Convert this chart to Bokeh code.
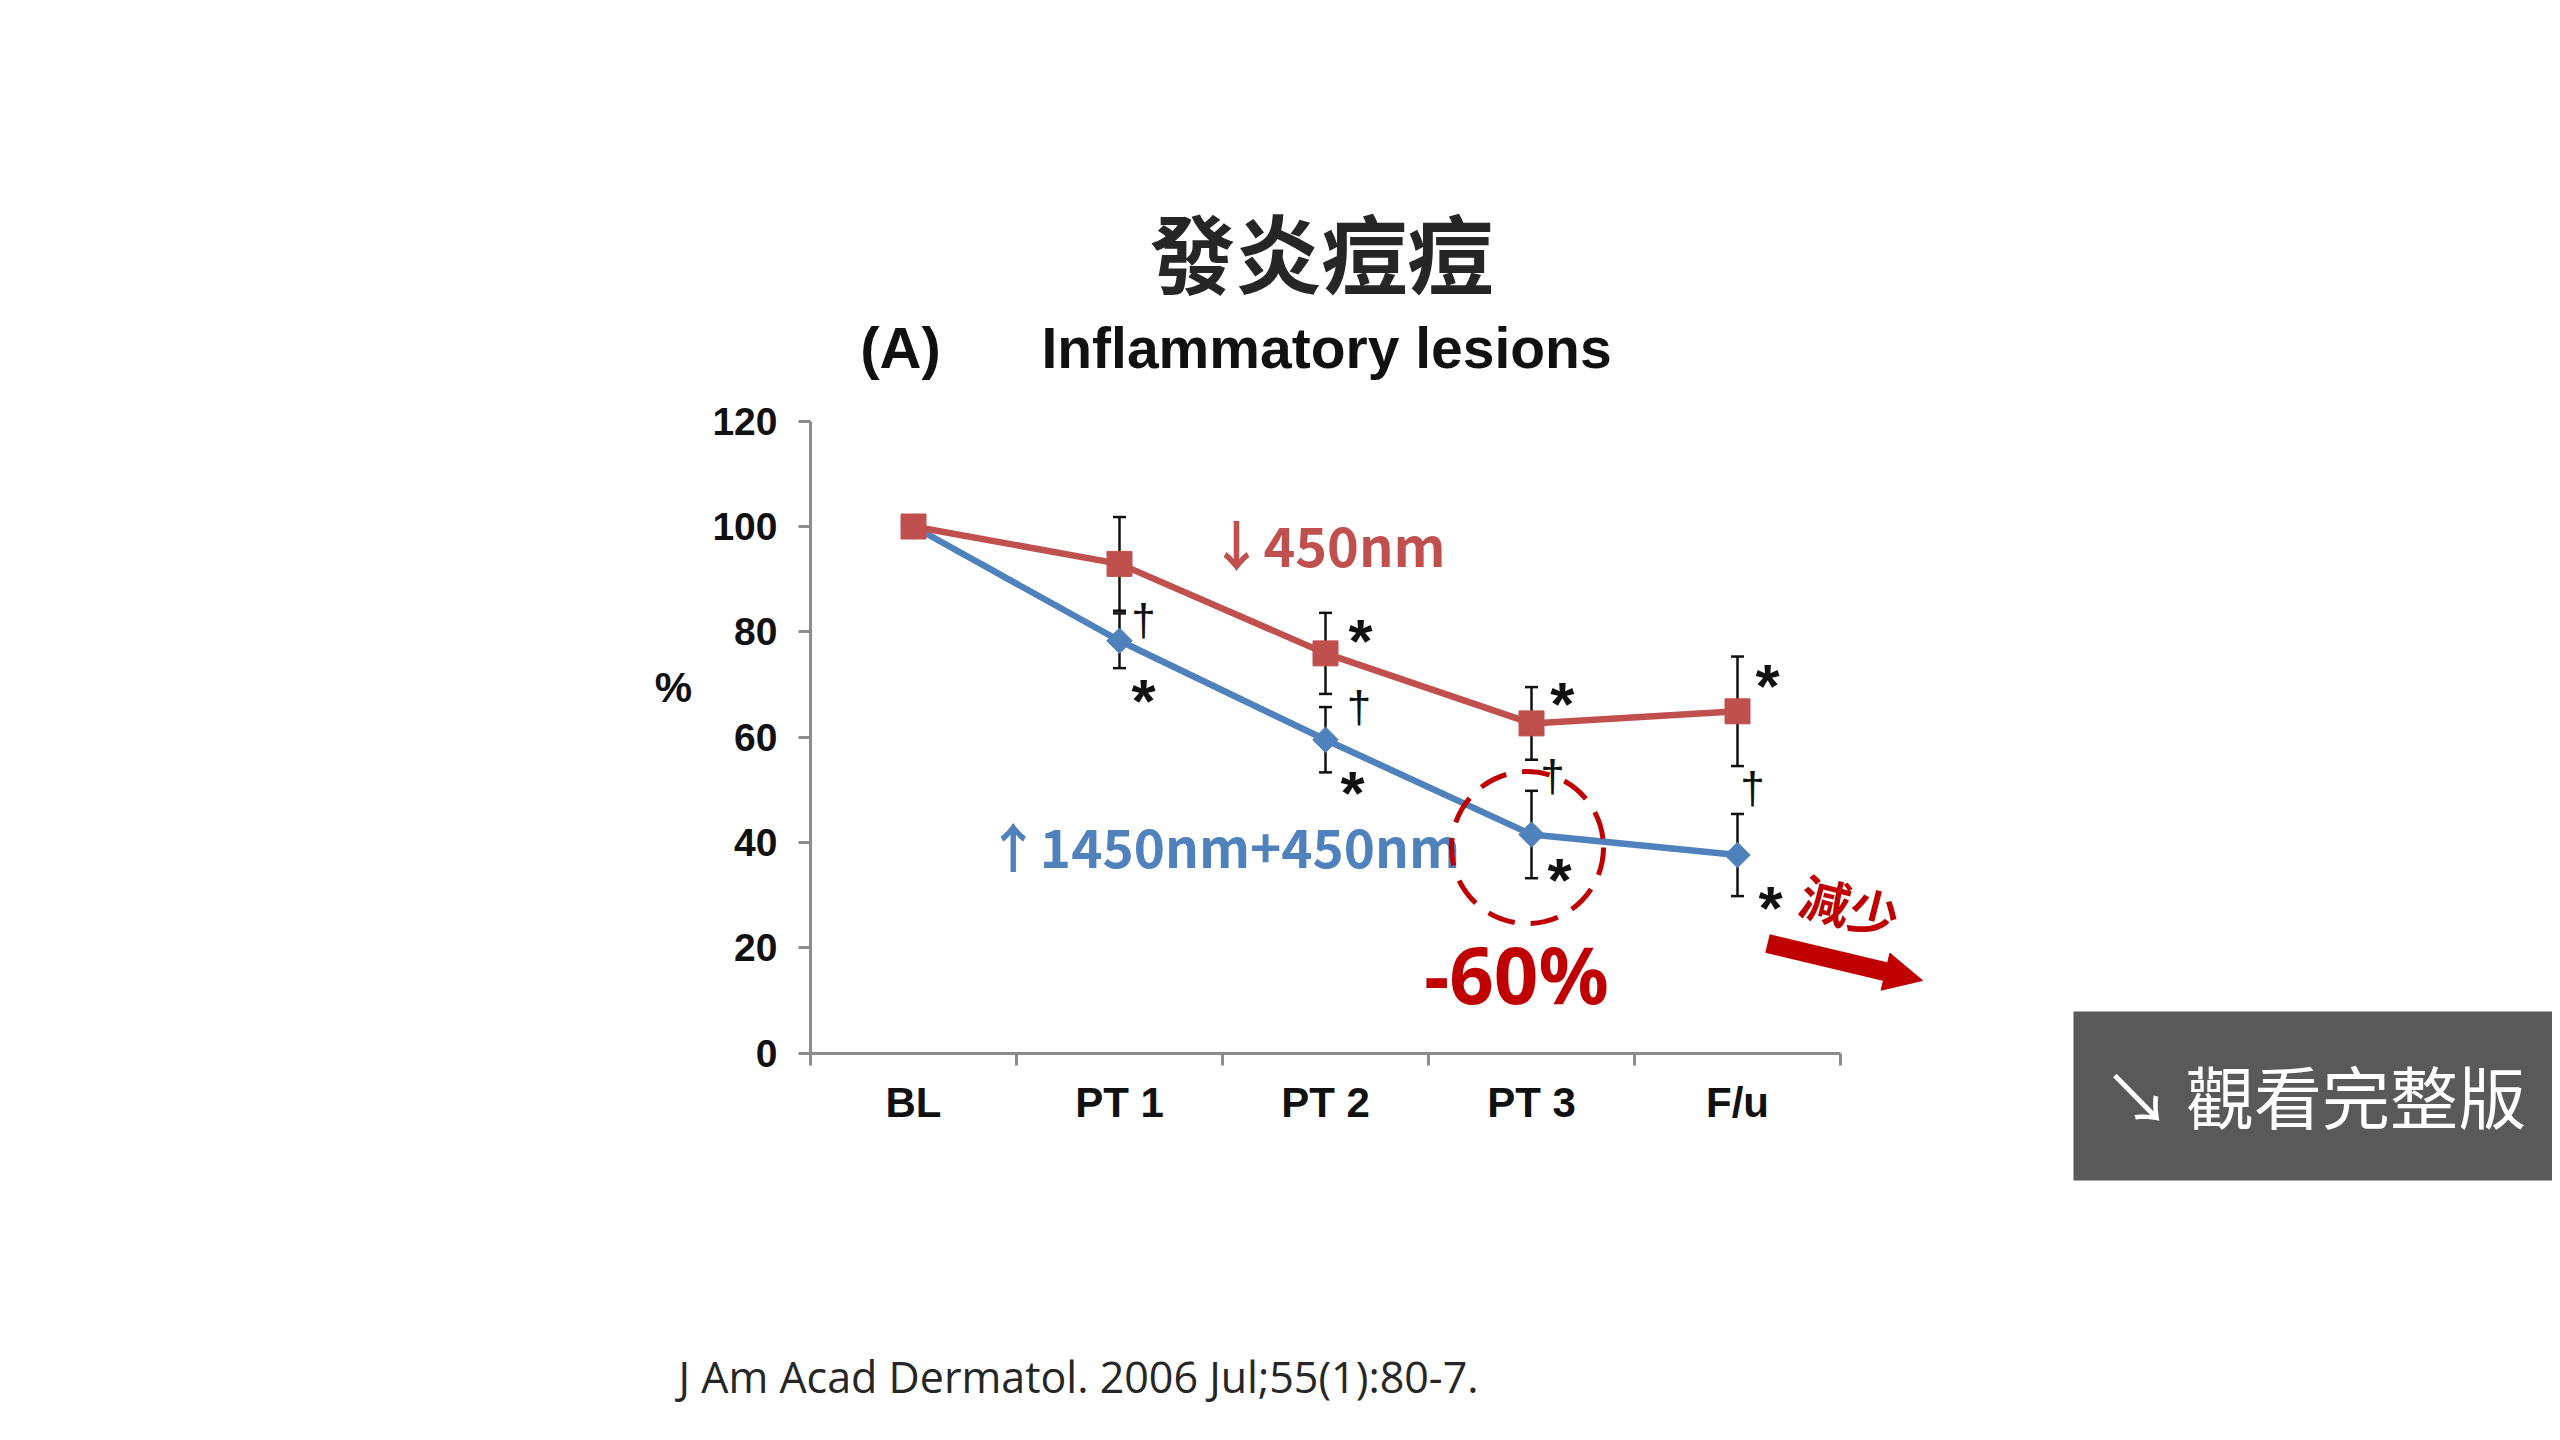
import numpy as np
from bokeh.plotting import figure
from bokeh.models import LinearAxis, FixedTicker, Range1d, ColumnDataSource, Arrow, NormalHead
from bokeh.core.properties import value
from bokeh.embed import file_html
from bokeh.resources import INLINE

# ---------------- data ----------------
categories = ["BL", "PT 1", "PT 2", "PT 3", "F/u"]
y_ticks = [0, 20, 40, 60, 80, 100, 120]
red_450 = [100, 92.9, 75.9, 62.6, 64.9]
red_450_err = [0, 8.9, 7.7, 6.9, 10.4]
blue_combo = [100, 78.3, 59.5, 41.5, 37.6]
blue_combo_err = [0, 5.2, 6.2, 8.3, 7.8]

# significance marks (category units, 1 = BL) and their value level
sig_text = ["†", "*", "*", "†", "*", "*", "†", "*", "*", "†", "*"]
sig_x = [2.117, 2.117, 3.17, 3.163, 3.131, 4.15, 4.102, 4.136, 5.146, 5.073, 5.16]
sig_y = [81.8, 68.3, 79.6, 65.3, 50.7, 67.6, 52.1, 34.3, 71.1, 49.9, 29.0]

# ---------------- layout helpers ----------------
W, H = 2552, 1432
PAGE = 0
AX_X0, UX = 810.0, 206.0      # pixel of x=0.5 (axis start), px per category
AX_Y0, UY = 1052.5, 5.265     # pixel of y=0, px per unit


def dx(px):
    return 0.5 + (px - AX_X0) / UX


def dy(py):
    return (AX_Y0 - py) / UY


RED = "#C0504D"
BLUE = "#4F81BD"
DARKRED = "#C00000"
GRAY = "#8C8C8C"

p = figure(width=W, height=H,
           x_range=Range1d(dx(PAGE), dx(PAGE + W)),
           y_range=Range1d(dy(PAGE + H), dy(PAGE)),
           x_axis_type=None, y_axis_type=None,
           toolbar_location=None, output_backend="svg",
           min_border=0, title=None)
p.outline_line_color = None
p.background_fill_color = "white"
p.border_fill_color = "white"

# ---------------- axes ----------------
n = len(categories)
xs = list(range(1, n + 1))

yaxis = LinearAxis(fixed_location=0.5, bounds=(y_ticks[0], y_ticks[-1]),
                   ticker=FixedTicker(ticks=y_ticks),
                   axis_line_color=GRAY, axis_line_width=3,
                   major_tick_line_color=GRAY, major_tick_line_width=3,
                   major_tick_in=0, major_tick_out=12,
                   minor_tick_line_color=None,
                   major_label_standoff=21,
                   major_label_text_font="Liberation Sans",
                   major_label_text_font_style="bold",
                   major_label_text_font_size="39px",
                   major_label_text_color="#111111")
p.add_layout(yaxis, "left")

xaxis_ticks = LinearAxis(fixed_location=0, bounds=(0.5, n + 0.5),
                         ticker=FixedTicker(ticks=[i + 0.5 for i in range(n + 1)]),
                         axis_line_color=GRAY, axis_line_width=3,
                         major_tick_line_color=GRAY, major_tick_line_width=3,
                         major_tick_in=0, major_tick_out=12,
                         minor_tick_line_color=None,
                         major_label_text_color=None)
p.add_layout(xaxis_ticks, "below")

xaxis_labels = LinearAxis(fixed_location=0,
                          ticker=FixedTicker(ticks=xs),
                          major_label_overrides={x: c for x, c in zip(xs, categories)},
                          axis_line_color=None, major_tick_line_color=None,
                          minor_tick_line_color=None,
                          major_tick_in=0, major_tick_out=0,
                          major_label_standoff=26,
                          major_label_text_font="Liberation Sans",
                          major_label_text_font_style="bold",
                          major_label_text_font_size="42px",
                          major_label_text_color="#111111")
p.add_layout(xaxis_labels, "below")

# ---------------- error bars ----------------
for vals, errs in ((red_450, red_450_err), (blue_combo, blue_combo_err)):
    ex = [x for x, e in zip(xs, errs) if e > 0]
    lo = [v - e for v, e in zip(vals, errs) if e > 0]
    hi = [v + e for v, e in zip(vals, errs) if e > 0]
    src = ColumnDataSource(dict(x=ex, lo=lo, hi=hi))
    p.segment(x0="x", y0="lo", x1="x", y1="hi", source=src, line_color="#111111", line_width=2.5)
    p.scatter(x="x", y="lo", source=src, marker="dash", size=13, line_color="#111111", line_width=2.5)
    p.scatter(x="x", y="hi", source=src, marker="dash", size=13, line_color="#111111", line_width=2.5)

# ---------------- series ----------------
p.line(xs, blue_combo, line_color=BLUE, line_width=6.5)
p.scatter(xs, blue_combo, marker="square", angle=np.pi / 4, size=18,
          fill_color=BLUE, line_color=BLUE)
p.line(xs, red_450, line_color=RED, line_width=6.5)
p.scatter(xs, red_450, marker="square", size=25, fill_color=RED, line_color=RED)

# ---------------- significance marks ----------------
ast_size, dag_size = 62, 44
ast_x = [x for x, t in zip(sig_x, sig_text) if t == "*"]
ast_y = [y - 0.11 * ast_size / UY for y, t in zip(sig_y, sig_text) if t == "*"]
dag_x = [x for x, t in zip(sig_x, sig_text) if t == "†"]
dag_y = [y + 3.0 / UY for y, t in zip(sig_y, sig_text) if t == "†"]
p.text(x=ast_x, y=ast_y, text=["*"] * len(ast_x), text_font=value("Liberation Sans"),
       text_font_style="bold", text_font_size=value(f"{ast_size}px"),
       text_color="#111111", text_align="center", text_baseline="middle")
p.text(x=dag_x, y=dag_y, text=["†"] * len(dag_x), text_font=value("Liberation Sans"),
       text_font_size=value(f"{dag_size}px"),
       text_color="#111111", text_align="center", text_baseline="middle")


def txt(px, py, s, font, size, color, style="normal", align="center",
        baseline="middle", angle=0.0):
    p.text(x=[dx(px)], y=[dy(py)], text=[s], text_font=value(font),
           text_font_size=value(f"{size}px"), text_color=color,
           text_font_style=style, text_align=align, text_baseline=baseline,
           angle=angle)


# series labels
txt(1327, 543, "↓450nm", "Noto Sans CJK TC", 54, RED, "bold")
txt(1223, 844, "↑1450nm+450nm", "Noto Sans CJK TC", 53, BLUE, "bold")

# highlight circle, -60%, arrow
p.scatter(x=[dx(1527)], y=[dy(847)], marker="circle", size=152,
          fill_color=None, line_color=DARKRED, line_width=5, line_dash="28 16")
txt(1516, 973, "-60%", "Noto Sans", 78, DARKRED, "bold")
txt(1850, 904, "減少", "Noto Sans CJK TC", 50, DARKRED, "bold", angle=-0.25)
p.add_layout(Arrow(end=NormalHead(size=38, fill_color=DARKRED, line_color=DARKRED),
                   x_start=dx(1767), y_start=dy(943), x_end=dx(1922), y_end=dy(980),
                   line_color=DARKRED, line_width=19))

# titles
txt(1321, 250, "發炎痘痘", "Noto Sans CJK TC", 86, "#262626", "bold")
txt(900, 347, "(A)", "Liberation Sans", 58, "#111111", "bold")
txt(1326, 347, "Inflammatory lesions", "Liberation Sans", 57, "#111111", "bold")
txt(673, 687, "%", "Liberation Sans", 42, "#111111", "bold")

# citation
txt(678, 1376, "J Am Acad Dermatol. 2006 Jul;55(1):80-7.", "Open Sans", 43, "#262626",
    align="left")

# button
p.quad(left=[dx(2073)], right=[dx(PAGE + W)], top=[dy(1011)], bottom=[dy(1180)],
       fill_color="#595959", line_color=None)
txt(2314, 1094, "↘ 觀看完整版", "Noto Sans CJK TC", 68, "white")

open("out.html", "w").write(file_html(p, INLINE))
